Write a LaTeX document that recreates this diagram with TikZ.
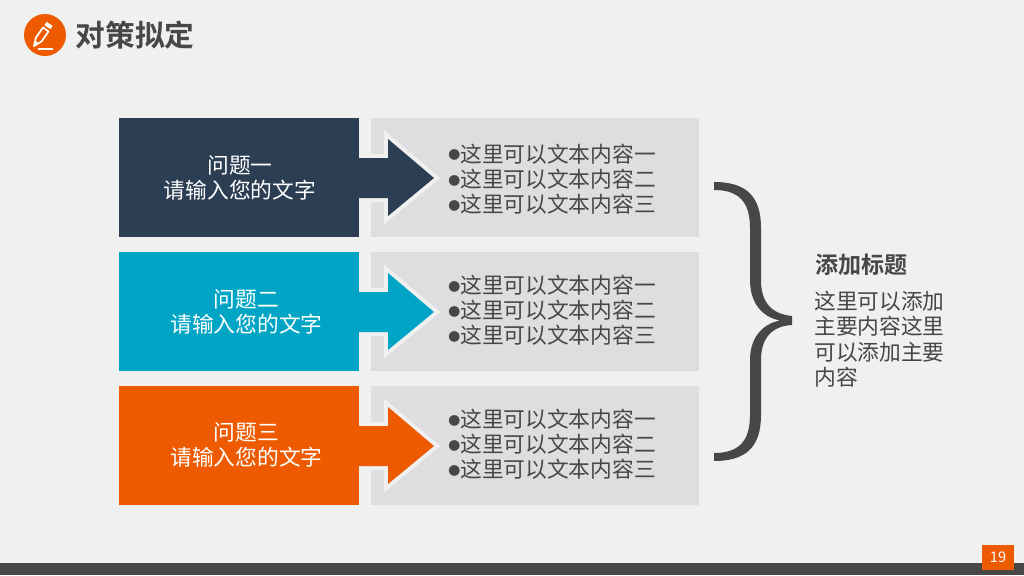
\documentclass[tikz,border=0pt]{standalone}
\usepackage{fontspec}
\setmainfont{Noto Sans CJK SC}[BoldFont={Noto Sans CJK SC Bold}]
\definecolor{pagebg}{HTML}{F0F0F0}
\definecolor{panelgray}{HTML}{DEDEE0}
\definecolor{darkgray}{HTML}{474747}
\definecolor{rownavy}{HTML}{2C3E53}
\definecolor{rowteal}{HTML}{00A5C5}
\definecolor{roworange}{HTML}{EE5A00}
\newcommand{\dotmark}{\raisebox{1.6pt}{\fontsize{9}{9}\selectfont ●}}
\tikzset{
  rowbox/.style={minimum width=180pt,minimum height=89.25pt,inner sep=0pt,fill=#1},
  rowtext/.style={inner sep=0pt,text=white,align=center,font=\fontsize{16.3}{18.75}\selectfont},
  panelbox/.style={minimum width=246pt,minimum height=89.25pt,inner sep=0pt,fill=panelgray},
  listtext/.style={anchor=west,inner sep=0pt,align=left,text=darkgray,font=\fontsize{16.3}{18.9}\selectfont},
  arrowshape/.style={fill=#1,preaction={draw=pagebg,line width=6pt,miter limit=10}},
}
\begin{document}
\begin{tikzpicture}[x=0.75pt,y=-0.75pt]
  \useasboundingbox (0,0) rectangle (1024,575);
  \fill[pagebg] (0,0) rectangle (1024,575);

  % title
  \node[circle,fill=roworange,minimum size=31.5pt,inner sep=0pt] (icon) at (45,35) {};
  \draw[white,line width=1.3pt,line join=round] (34,46) -- (36,37.5) -- (43,27.5) -- (48.5,31.5) -- (41.5,41.5) -- cycle;
  \fill[white] (33.5,47) -- (34.8,40.5) -- (39,43.5) -- cycle;
  \draw[white,line width=3pt] (45.5,23.5) -- (51.5,27.5);
  \draw[white,line width=0.9pt] (38,49) -- (53,49);
  \node[anchor=west,inner sep=0pt,text=darkgray,font=\fontsize{22.3}{26}\selectfont\bfseries] (title) at (75.5,35) {对策拟定};

  % panels
  \node[panelbox] (P1) at (535,177.5) {};
  \node[panelbox] (P2) at (535,311.5) {};
  \node[panelbox] (P3) at (535,445.5) {};

  % arrows
  \fill[arrowshape=rownavy] (350,158) -- (388,158) -- (388,139) -- (434,178) -- (388,216) -- (388,198) -- (350,198) -- cycle;
  \fill[arrowshape=rowteal] (350,292) -- (388,292) -- (388,273) -- (434,312) -- (388,350) -- (388,332) -- (350,332) -- cycle;
  \fill[arrowshape=roworange] (350,426) -- (388,426) -- (388,407) -- (434,446) -- (388,484) -- (388,466) -- (350,466) -- cycle;

  % left boxes
  \node[rowbox=rownavy] (A) at (239,177.5) {};
  \node[rowbox=rowteal] (B) at (239,311.5) {};
  \node[rowbox=roworange] (C) at (239,445.5) {};
  \node[rowtext] (Atext) at (240,177.5) {问题一\\请输入您的文字};
  \node[rowtext] (Btext) at (246.5,312) {问题二\\请输入您的文字};
  \node[rowtext] (Ctext) at (246.5,445) {问题三\\请输入您的文字};

  % lists
  \node[listtext] (L1) at (448,179) {\dotmark 这里可以文本内容一\\\dotmark 这里可以文本内容二\\\dotmark 这里可以文本内容三};
  \node[listtext] (L2) at (448,310.5) {\dotmark 这里可以文本内容一\\\dotmark 这里可以文本内容二\\\dotmark 这里可以文本内容三};
  \node[listtext] (L3) at (448,444.5) {\dotmark 这里可以文本内容一\\\dotmark 这里可以文本内容二\\\dotmark 这里可以文本内容三};

  % brace
  \fill[darkgray] (714,182) .. controls (745,182) and (761,195) .. (761,228)
    -- (761,280) .. controls (761,303) and (772,314) .. (792,316)
    -- (792,325) .. controls (772,326) and (761,338) .. (761,360)
    -- (761,415) .. controls (761,448) and (745,461) .. (714,461)
    -- (714,453) .. controls (738,453) and (750,442) .. (750,415)
    -- (750,360) .. controls (750,338) and (762,324) .. (780,320.5)
    .. controls (762,317) and (750,303) .. (750,280)
    -- (750,228) .. controls (750,201) and (738,190) .. (714,190) -- cycle;

  % right text
  \node[anchor=west,inner sep=0pt,text=darkgray,font=\fontsize{17.3}{20}\selectfont\bfseries] (head) at (815,265) {添加标题};
  \node[listtext,anchor=north west] (body) at (814,291) {这里可以添加\\主要内容这里\\可以添加主要\\内容};

  % footer
  \fill[darkgray] (0,563) rectangle (1024,575);
  \node[fill=roworange,text=white,minimum width=24pt,minimum height=18.75pt,inner sep=0pt,font=\fontsize{11}{12}\selectfont] (page) at (998,557.5) {19};
\end{tikzpicture}
\end{document}
